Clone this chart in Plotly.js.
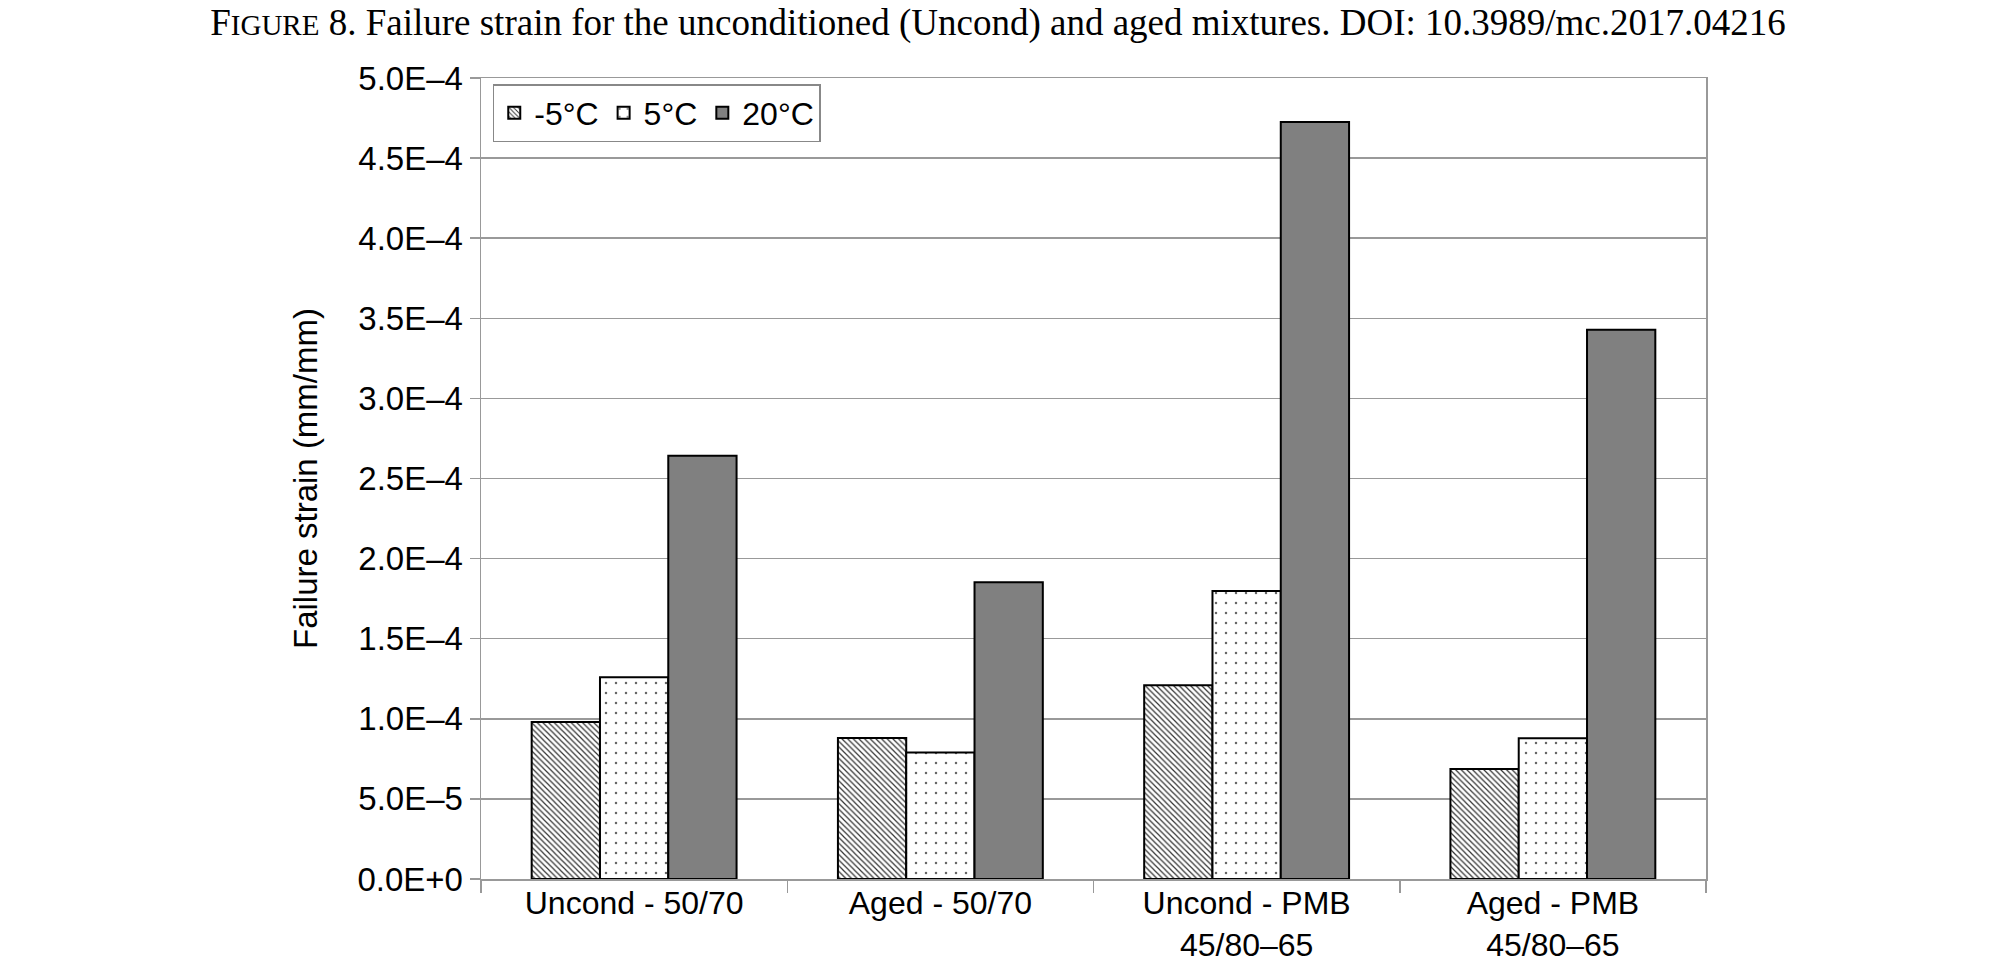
<!DOCTYPE html>
<html>
<head>
<meta charset="utf-8">
<script src="https://cdn.plot.ly/plotly-3.0.1.min.js"></script>
<style>
  html, body { margin: 0; padding: 0; background: #fff; }
  #fig8_plot { width: 1996px; height: 965px; }
</style>
</head>
<body>
<div id="fig8_plot"></div>
<script>
// mixtures on the x axis
var mixtures = ['Uncond - 50/70', 'Aged - 50/70', 'Uncond - PMB<br>45/80–65', 'Aged - PMB<br>45/80–65'];

// failure strain (mm/mm) per test temperature
var strain_m5 = [9.8e-5, 8.8e-5, 1.21e-4, 6.87e-5];
var strain_5 = [1.26e-4, 7.9e-5, 1.797e-4, 8.79e-5];
var strain_20 = [2.642e-4, 1.853e-4, 4.725e-4, 3.428e-4];

var series_names = ['-5°C', '5°C', '20°C'];

var y_tickvals = [0, 5e-5, 1e-4, 1.5e-4, 2e-4, 2.5e-4, 3e-4, 3.5e-4, 4e-4, 4.5e-4, 5e-4];
var y_ticktext = ['0.0E+0', '5.0E–5', '1.0E–4', '1.5E–4', '2.0E–4', '2.5E–4', '3.0E–4', '3.5E–4', '4.0E–4', '4.5E–4', '5.0E–4'];

var outline = { color: '#000', width: 2 };

var data = [
    { x: mixtures, y: strain_m5, name: series_names[0], type: 'bar',
      marker: { color: '#fff', line: outline,
                pattern: { shape: '\\', size: 4, solidity: 0.3, fgcolor: '#333', bgcolor: '#fff' } } },
    { x: mixtures, y: strain_5, name: series_names[1], type: 'bar',
      marker: { color: '#fff', line: outline,
                pattern: { shape: '.', size: 10, solidity: 0.05, fgcolor: '#666', bgcolor: '#fff' } } },
    { x: mixtures, y: strain_20, name: series_names[2], type: 'bar',
      marker: { color: '#808080', line: outline } }
];

var font_sans = 'Liberation Sans, Arial, sans-serif';

var layout = {
    width: 1996, height: 965,
    margin: { l: 481, r: 290, t: 78, b: 86 },
    paper_bgcolor: '#fff', plot_bgcolor: '#fff',
    font: { family: font_sans, size: 30, color: '#000' },
    title: {
        text: 'F<span style="font-size:29px">IGURE</span> 8. Failure strain for the unconditioned (Uncond) and aged mixtures. DOI: 10.3989/mc.2017.04216',
        font: { family: 'Liberation Serif, Times New Roman, serif', size: 37, color: '#000' },
        x: 0.5, xanchor: 'center', xref: 'container',
        y: 0.991, yanchor: 'top', yref: 'container'
    },
    barmode: 'group',
    bargap: 0.331,
    bargroupgap: 0,
    showlegend: true,
    legend: {
        orientation: 'h',
        x: 0.0096, xanchor: 'left',
        y: 0.9925, yanchor: 'top',
        bordercolor: '#888', borderwidth: 1.5, bgcolor: '#fff',
        font: { family: font_sans, size: 32, color: '#000' },
        itemwidth: 30, traceorder: 'normal'
    },
    xaxis: {
        type: 'category',
        automargin: false,
        showline: true, linecolor: '#999', linewidth: 1.5, mirror: true,
        ticks: 'outside', tickson: 'boundaries', ticklen: 12, tickcolor: '#999', tickwidth: 1.5,
        ticklabelstandoff: -5,
        tickfont: { family: font_sans, size: 32, color: '#000' },
        showgrid: false
    },
    yaxis: {
        automargin: false,
        range: [0, 5e-4],
        tickvals: y_tickvals, ticktext: y_ticktext,
        ticks: 'outside', ticklen: 10, tickcolor: '#999', tickwidth: 1.5,
        tickfont: { family: font_sans, size: 33, color: '#000' },
        showline: true, linecolor: '#999', linewidth: 1.5, mirror: true,
        showgrid: true, gridcolor: '#999', gridwidth: 1.5,
        zeroline: false,
        title: { text: 'Failure strain (mm/mm)', font: { family: font_sans, size: 33, color: '#000' }, standoff: 30 }
    }
};

Plotly.newPlot('fig8_plot', data, layout, { staticPlot: true, displayModeBar: false });
</script>
</body>
</html>
